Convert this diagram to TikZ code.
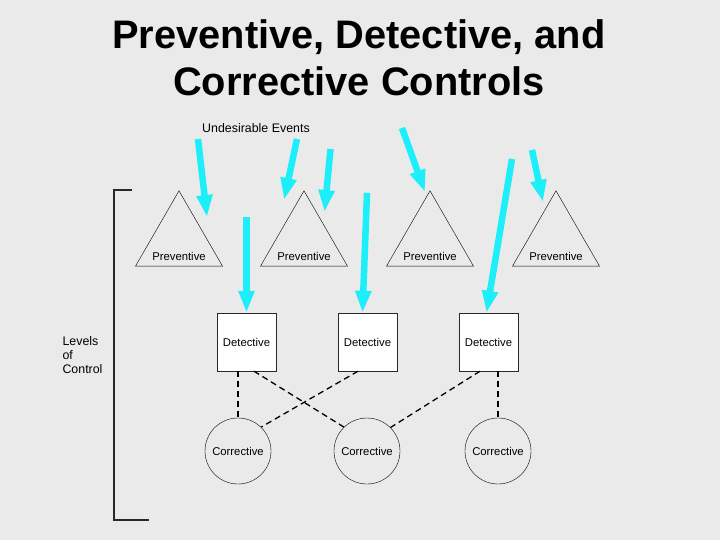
\documentclass[tikz,border=0pt]{standalone}
\usepackage{fontspec}
\setmainfont{Liberation Sans}
\usetikzlibrary{shapes.geometric,arrows.meta}
\definecolor{bggray}{RGB}{234,234,234}
\definecolor{evcyan}{RGB}{28,238,250}
\definecolor{lngray}{RGB}{40,40,40}
\begin{document}
\begin{tikzpicture}[x=1pt,y=-1pt]
  \tikzstyle{every node}=[font=\fontsize{11.3}{13}\selectfont]
  \tikzstyle{prev}=[regular polygon,regular polygon sides=3,draw,minimum size=100.4pt,inner sep=0pt,outer sep=0pt]
  \tikzstyle{det}=[rectangle,draw=lngray,fill=white,minimum width=59pt,minimum height=58pt,inner sep=0pt]
  \tikzstyle{cor}=[circle,draw,minimum size=66pt,inner sep=0pt]
  \tikzstyle{event}=[draw=evcyan,line width=6.5pt,-{Triangle[width=15pt,length=22pt]}]
  \tikzstyle{link}=[draw,line width=1.3pt,dash pattern=on 6pt off 4pt]
  \tikzstyle{side}=[font=\fontsize{12.4}{14}\selectfont]
  \fill[bggray] (0,0) rectangle (720,540);
  \useasboundingbox (0,0) rectangle (720,540);
  % title
  \node[anchor=base,font=\bfseries\fontsize{39.8}{47}\selectfont] (title) at (359,48.3) {Preventive, Detective, and};
  \node[anchor=base,font=\bfseries\fontsize{39.8}{47}\selectfont] (title2) at (359,96) {Corrective Controls};
  % levels
  \foreach \i/\x in {1/179,2/304,3/430,4/556} {
    \node[prev] (prev\i) at (\x,241) {};
    \node[anchor=base] (plab\i) at ([yshift=6pt]prev\i.south) {Preventive};
  }
  \node[det] (det1) at (246.5,342) {Detective};
  \node[det] (det2) at (367.5,342) {Detective};
  \node[det] (det3) at (488.5,342) {Detective};
  \node[cor] (cor1) at (238,451) {Corrective};
  \node[cor] (cor2) at (367,451) {Corrective};
  \node[cor] (cor3) at (498,451) {Corrective};
  % dashed links
  \draw[link] ([xshift=-8.5pt]det1.south) -- (cor1.north);
  \draw[link] ([xshift=7.5pt]det1.south) -- (cor2.134);
  \draw[link] ([xshift=-9.5pt]det2.south) -- (cor1.46);
  \draw[link] ([xshift=-8.5pt]det3.south) -- (cor2.45);
  \draw[link] ([xshift=9.5pt]det3.south) -- (cor3.north);
  % side bracket
  \node[side,anchor=west,align=left] (levels) at (59,355) {Levels\\of\\Control};
  \draw[lngray,line width=1.2pt] (132,190) -- (114,190) -- (114,520) -- (149,520);
  % undesirable events
  \node[side] (events) at (256,128) {Undesirable Events};
  \coordinate (u1) at (198,139);  \coordinate (h1) at (207,217);
  \coordinate (u2) at (297,139);  \coordinate (h2) at (284,200);
  \coordinate (u3) at (330.5,149);\coordinate (h3) at (324.5,212);
  \coordinate (u4) at (246.5,217);
  \coordinate (u5) at (367,193);
  \coordinate (u6) at (402,128);  \coordinate (h6) at (425,192);
  \coordinate (u7) at (512,159);
  \coordinate (u8) at (532,150);  \coordinate (h8) at (543,202);
  \draw[event] (u1) -- (h1);
  \draw[event] (u2) -- (h2);
  \draw[event] (u3) -- (h3);
  \draw[event] (u4) -- (det1.north);
  \draw[event] (u5) -- ([xshift=-5pt]det2.north);
  \draw[event] (u6) -- (h6);
  \draw[event] (u7) -- ([xshift=-2pt]det3.north);
  \draw[event] (u8) -- (h8);
\end{tikzpicture}
\end{document}
